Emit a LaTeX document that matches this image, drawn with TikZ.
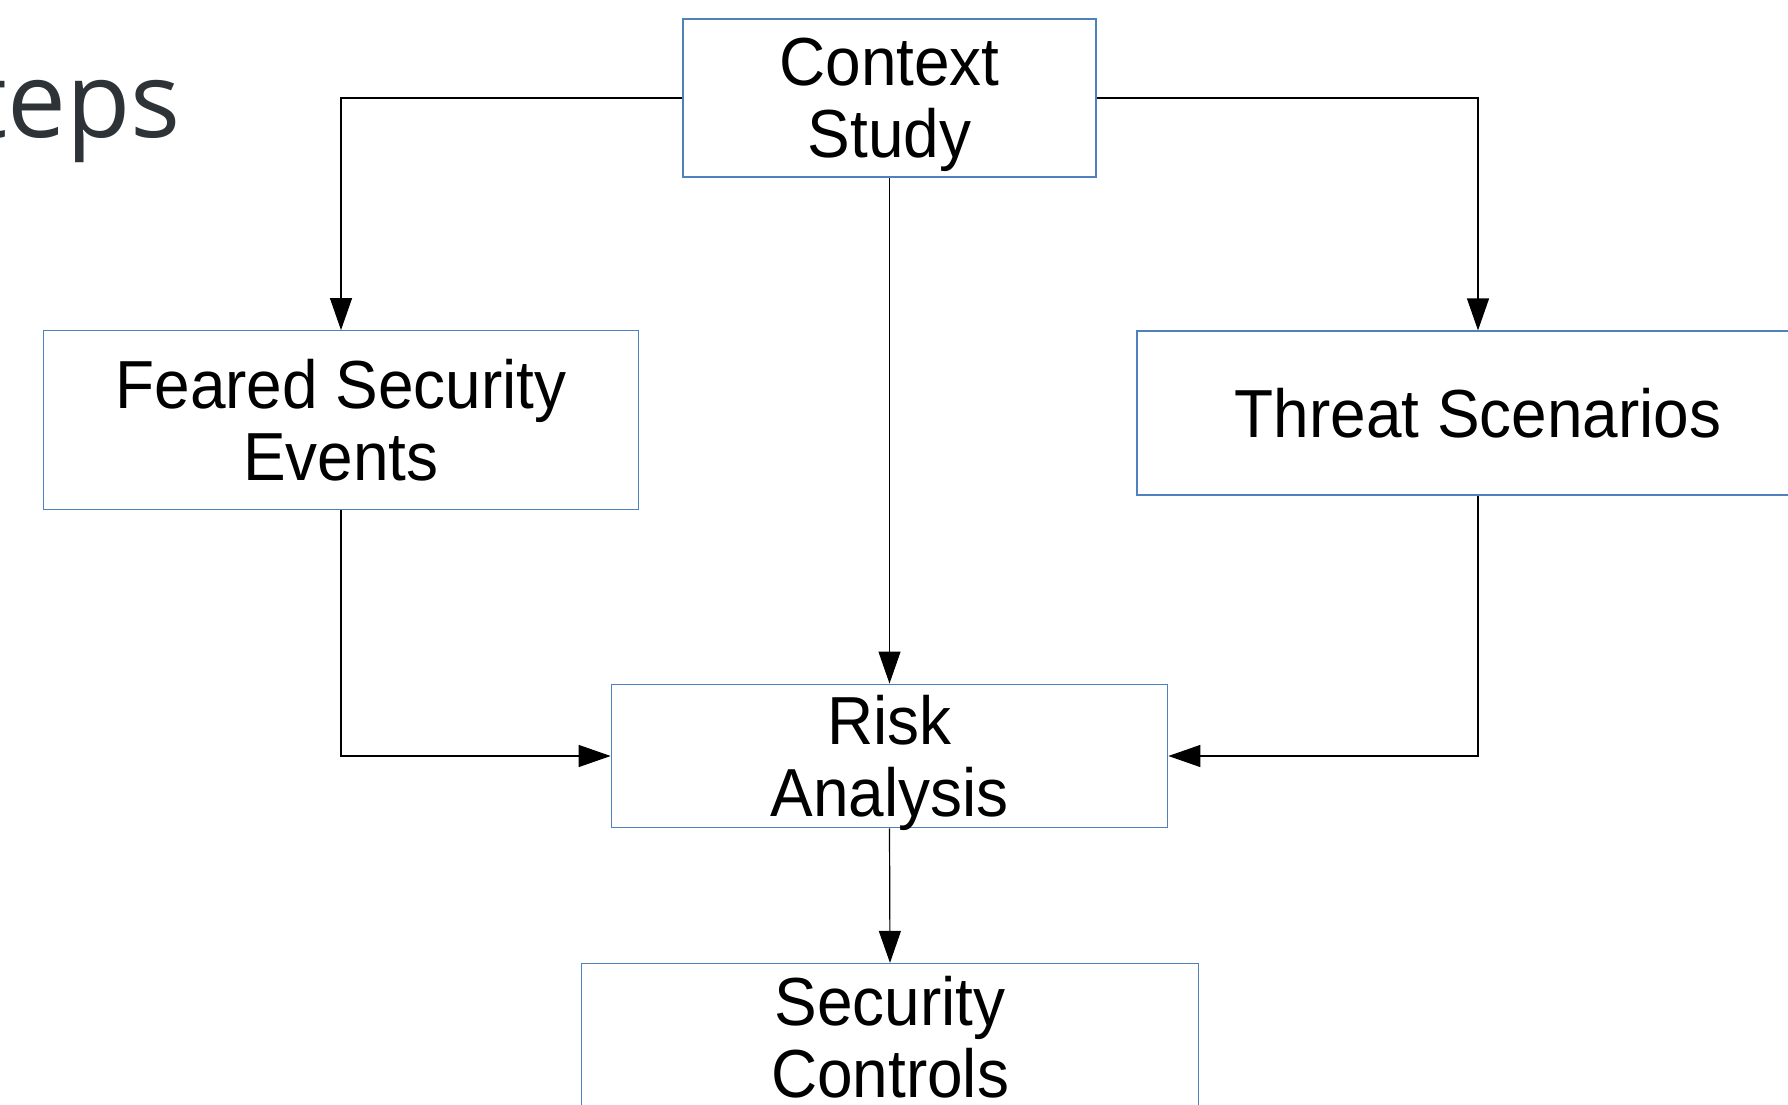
\documentclass[tikz,border=0pt]{standalone}
\usepackage{fontspec}
\setmainfont{Liberation Sans}[FakeStretch=0.94]
\newfontfamily\titlefont{Open Sans}
\usepackage{tikz}
\usetikzlibrary{arrows.meta}
\definecolor{boxblue}{RGB}{79,129,189}
\definecolor{titlegrey}{RGB}{46,51,56}

\begin{document}
\begin{tikzpicture}[x=1pt,y=-1pt,
  box/.style={draw=boxblue,line width=1.2pt,align=center,inner sep=0pt,
    text depth=0pt,font=\fontsize{68}{72}\selectfont},
  arr/.style={-{Triangle[length=32pt,width=22pt]},line width=1.2pt}]
  \useasboundingbox (0,0) rectangle (1788,1105);
  \clip (0,0) rectangle (1788,1105);
  \node at (181,138) [anchor=base east,inner sep=0pt,text=titlegrey,
    font=\titlefont\fontsize{105}{110}\selectfont] (title) {teps};
  \node at (889.5,98) [box,minimum width=413pt,minimum height=158pt] (context) {Context\\Study};
  \node at (341,420.2) [box,minimum width=595pt,minimum height=179pt] (feared) {Feared Security\\Events};
  \node at (1478,413) [box,minimum width=682pt,minimum height=164pt] (threat) {Threat Scenarios};
  \node at (889.5,756) [box,minimum width=556.5pt,minimum height=143.7pt] (risk) {Risk\\Analysis};
  \node at (890,1037) [box,minimum width=617pt,minimum height=147pt] (controls) {Security\\Controls};
  \draw[arr] (context.west) -| (feared.north);
  \draw[arr] (context.east) -| (threat.north);
  \draw[arr] (context.south) -- (risk.north);
  \draw[arr] (feared.south) |- (risk.west);
  \draw[arr] (threat.south) |- (risk.east);
  \draw[arr] (risk.south) -- (controls.north);
\end{tikzpicture}
\end{document}
